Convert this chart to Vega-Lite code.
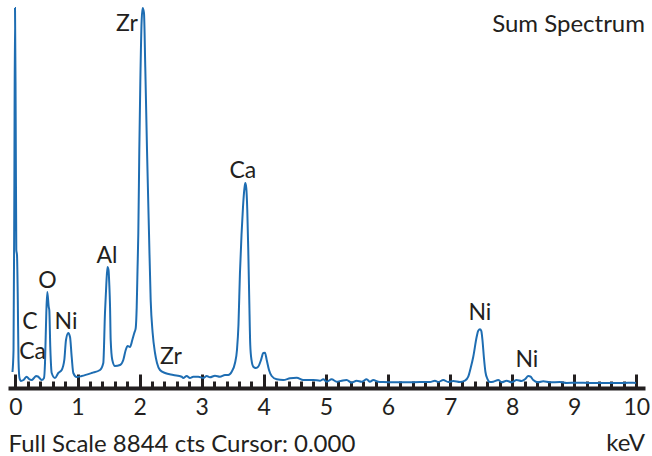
{
  "$schema": "https://vega.github.io/schema/vega-lite/v6.json",
  "width": 637,
  "height": 380,
  "autosize": {"type": "none"},
  "padding": {"left": 8, "top": 8, "right": 7, "bottom": 68},
  "background": "white",
  "config": {"view": {"stroke": null}, "font": "Lato"},
  "datasets": {
    "spectrum": [
      {"kev": -0.048, "cts": 372}, {"kev": -0.031, "cts": 884}, {"kev": -0.0185, "cts": 4375}, {"kev": -0.007, "cts": 8844},
      {"kev": 0.004, "cts": 6237}, {"kev": 0.0137, "cts": 3212}, {"kev": 0.025, "cts": 3095}, {"kev": 0.038, "cts": 2048},
      {"kev": 0.049, "cts": 652}, {"kev": 0.065, "cts": 233}, {"kev": 0.089, "cts": 163}, {"kev": 0.130, "cts": 186},
      {"kev": 0.181, "cts": 263}, {"kev": 0.218, "cts": 209}, {"kev": 0.262, "cts": 186}, {"kev": 0.299, "cts": 233},
      {"kev": 0.331, "cts": 279}, {"kev": 0.363, "cts": 268}, {"kev": 0.423, "cts": 186}, {"kev": 0.460, "cts": 233},
      {"kev": 0.476, "cts": 582}, {"kev": 0.497, "cts": 1746}, {"kev": 0.513, "cts": 2234}, {"kev": 0.536, "cts": 1885},
      {"kev": 0.545, "cts": 1815}, {"kev": 0.561, "cts": 954}, {"kev": 0.584, "cts": 349}, {"kev": 0.637, "cts": 233},
      {"kev": 0.690, "cts": 349}, {"kev": 0.745, "cts": 419}, {"kev": 0.787, "cts": 652}, {"kev": 0.814, "cts": 1117},
      {"kev": 0.851, "cts": 1280}, {"kev": 0.879, "cts": 1187}, {"kev": 0.906, "cts": 721}, {"kev": 0.932, "cts": 349},
      {"kev": 0.986, "cts": 256}, {"kev": 1.067, "cts": 279}, {"kev": 1.228, "cts": 349}, {"kev": 1.362, "cts": 419},
      {"kev": 1.415, "cts": 582}, {"kev": 1.442, "cts": 1746}, {"kev": 1.463, "cts": 2397}, {"kev": 1.482, "cts": 2816},
      {"kev": 1.499, "cts": 2746}, {"kev": 1.512, "cts": 2397}, {"kev": 1.523, "cts": 1932}, {"kev": 1.534, "cts": 1117},
      {"kev": 1.560, "cts": 652}, {"kev": 1.603, "cts": 512}, {"kev": 1.684, "cts": 535}, {"kev": 1.737, "cts": 652},
      {"kev": 1.776, "cts": 884}, {"kev": 1.808, "cts": 977}, {"kev": 1.845, "cts": 954}, {"kev": 1.882, "cts": 1117},
      {"kev": 1.914, "cts": 1280}, {"kev": 1.937, "cts": 1396}, {"kev": 1.953, "cts": 1885}, {"kev": 1.966, "cts": 2746},
      {"kev": 1.979, "cts": 3607}, {"kev": 1.995, "cts": 5539}, {"kev": 2.011, "cts": 7098}, {"kev": 2.033, "cts": 8565},
      {"kev": 2.049, "cts": 8844}, {"kev": 2.070, "cts": 8728}, {"kev": 2.091, "cts": 7471}, {"kev": 2.119, "cts": 5539},
      {"kev": 2.151, "cts": 3607}, {"kev": 2.178, "cts": 2048}, {"kev": 2.210, "cts": 1280}, {"kev": 2.248, "cts": 815},
      {"kev": 2.280, "cts": 582}, {"kev": 2.328, "cts": 419}, {"kev": 2.409, "cts": 349}, {"kev": 2.542, "cts": 303},
      {"kev": 2.678, "cts": 263}, {"kev": 2.703, "cts": 233}, {"kev": 2.758, "cts": 279}, {"kev": 2.811, "cts": 233},
      {"kev": 2.864, "cts": 263}, {"kev": 2.945, "cts": 263}, {"kev": 3.025, "cts": 233}, {"kev": 3.080, "cts": 279},
      {"kev": 3.133, "cts": 249}, {"kev": 3.214, "cts": 286}, {"kev": 3.294, "cts": 263}, {"kev": 3.375, "cts": 303},
      {"kev": 3.428, "cts": 303}, {"kev": 3.483, "cts": 379}, {"kev": 3.536, "cts": 582}, {"kev": 3.568, "cts": 884},
      {"kev": 3.592, "cts": 1466}, {"kev": 3.616, "cts": 2677}, {"kev": 3.641, "cts": 3561}, {"kev": 3.665, "cts": 4213},
      {"kev": 3.689, "cts": 4655}, {"kev": 3.702, "cts": 4771}, {"kev": 3.718, "cts": 4655}, {"kev": 3.734, "cts": 4143},
      {"kev": 3.750, "cts": 3212}, {"kev": 3.766, "cts": 2048}, {"kev": 3.782, "cts": 1001}, {"kev": 3.802, "cts": 652},
      {"kev": 3.831, "cts": 496}, {"kev": 3.874, "cts": 465}, {"kev": 3.911, "cts": 496}, {"kev": 3.955, "cts": 652},
      {"kev": 3.992, "cts": 815}, {"kev": 4.019, "cts": 822}, {"kev": 4.047, "cts": 652}, {"kev": 4.084, "cts": 419},
      {"kev": 4.127, "cts": 279}, {"kev": 4.208, "cts": 202}, {"kev": 4.314, "cts": 186}, {"kev": 4.422, "cts": 226},
      {"kev": 4.530, "cts": 240}, {"kev": 4.636, "cts": 186}, {"kev": 4.797, "cts": 186}, {"kev": 4.905, "cts": 170},
      {"kev": 4.958, "cts": 202}, {"kev": 5.013, "cts": 147}, {"kev": 5.093, "cts": 202}, {"kev": 5.174, "cts": 147},
      {"kev": 5.254, "cts": 170}, {"kev": 5.335, "cts": 186}, {"kev": 5.416, "cts": 123}, {"kev": 5.496, "cts": 170},
      {"kev": 5.577, "cts": 147}, {"kev": 5.657, "cts": 202}, {"kev": 5.710, "cts": 147}, {"kev": 5.763, "cts": 186},
      {"kev": 5.844, "cts": 147}, {"kev": 5.924, "cts": 140}, {"kev": 6.085, "cts": 133}, {"kev": 6.301, "cts": 133},
      {"kev": 6.516, "cts": 140}, {"kev": 6.677, "cts": 140}, {"kev": 6.757, "cts": 170}, {"kev": 6.810, "cts": 140},
      {"kev": 6.891, "cts": 186}, {"kev": 6.971, "cts": 140}, {"kev": 7.052, "cts": 163}, {"kev": 7.160, "cts": 140},
      {"kev": 7.240, "cts": 170}, {"kev": 7.293, "cts": 263}, {"kev": 7.332, "cts": 465}, {"kev": 7.374, "cts": 728},
      {"kev": 7.429, "cts": 1194}, {"kev": 7.454, "cts": 1334}, {"kev": 7.482, "cts": 1366}, {"kev": 7.503, "cts": 1327},
      {"kev": 7.522, "cts": 1117}, {"kev": 7.546, "cts": 698}, {"kev": 7.570, "cts": 372}, {"kev": 7.603, "cts": 209},
      {"kev": 7.643, "cts": 140}, {"kev": 7.696, "cts": 147}, {"kev": 7.777, "cts": 186}, {"kev": 7.831, "cts": 133},
      {"kev": 7.912, "cts": 170}, {"kev": 7.992, "cts": 133}, {"kev": 8.073, "cts": 186}, {"kev": 8.153, "cts": 163},
      {"kev": 8.207, "cts": 202}, {"kev": 8.260, "cts": 279}, {"kev": 8.298, "cts": 263}, {"kev": 8.340, "cts": 186},
      {"kev": 8.421, "cts": 133}, {"kev": 8.501, "cts": 156}, {"kev": 8.609, "cts": 133}, {"kev": 8.770, "cts": 140},
      {"kev": 8.878, "cts": 116}, {"kev": 9.039, "cts": 123}, {"kev": 9.253, "cts": 116}, {"kev": 9.522, "cts": 116},
      {"kev": 9.790, "cts": 116}, {"kev": 9.951, "cts": 123}, {"kev": 9.994, "cts": 116}
    ],
    "peaks": [
      {"kev": 1.795, "cts": 8480, "label": "Zr"},
      {"kev": 3.663, "cts": 5040, "label": "Ca"},
      {"kev": 1.473, "cts": 3070, "label": "Al"},
      {"kev": 0.515, "cts": 2500, "label": "O"},
      {"kev": 0.235, "cts": 1540, "label": "C"},
      {"kev": 0.815, "cts": 1536, "label": "Ni"},
      {"kev": 0.275, "cts": 830, "label": "Ca"},
      {"kev": 2.504, "cts": 721, "label": "Zr"},
      {"kev": 7.48, "cts": 1745, "label": "Ni"},
      {"kev": 8.237, "cts": 652, "label": "Ni"}
    ],
    "corner": [
      {"kev": 10.14, "cts": 8450, "label": "Sum Spectrum"},
      {"kev": 10.14, "cts": -1303, "label": "keV"}
    ]
  },
  "layer": [
    {
      "data": {"name": "spectrum"},
      "mark": {"type": "line", "color": "#1e6db2", "strokeWidth": 2, "interpolate": "monotone", "clip": false},
      "encoding": {
        "x": {
          "field": "kev", "type": "quantitative",
          "scale": {"domain": [-0.12, 10.14], "nice": false, "zero": false},
          "axis": {
            "title": "Full Scale 8844 cts Cursor: 0.000",
            "titleAnchor": "start", "titleAlign": "left", "titleFont": "Lato", "titleFontSize": 24, "titleFontWeight": "normal", "titleColor": "#231f20", "titlePadding": 6,
            "values": [0,0.2,0.4,0.6,0.8,1,1.2,1.4,1.6,1.8,2,2.2,2.4,2.6,2.8,3,3.2,3.4,3.6,3.8,4,4.2,4.4,4.6,4.8,5,5.2,5.4,5.6,5.8,6,6.2,6.4,6.6,6.8,7,7.2,7.4,7.6,7.8,8,8.2,8.4,8.6,8.8,9,9.2,9.4,9.6,9.8,10],
            "tickCount": 200,
            "labelExpr": "abs(datum.value - round(datum.value)) < 0.001 ? format(datum.value, 'd') : ''",
            "labelFont": "Lato", "labelFontSize": 23, "labelColor": "#231f20", "labelPadding": 22, "labelFlush": false, "labelOverlap": false,
            "tickSize": {"condition": {"test": "abs(datum.value - round(datum.value)) < 0.001", "value": -14}, "value": -7},
            "tickWidth": 3, "tickColor": "#231f20",
            "domainColor": "#231f20", "domainWidth": 4,
            "grid": false
          }
        },
        "y": {
          "field": "cts", "type": "quantitative",
          "scale": {"domain": [0, 8844], "nice": false, "zero": false},
          "axis": null
        }
      }
    },
    {
      "data": {"name": "peaks"},
      "mark": {"type": "text", "font": "Lato", "fontSize": 23, "color": "#231f20", "align": "center", "baseline": "middle", "clip": false},
      "encoding": {
        "x": {"field": "kev", "type": "quantitative"},
        "y": {"field": "cts", "type": "quantitative"},
        "text": {"field": "label"}
      }
    },
    {
      "data": {"name": "corner"},
      "mark": {"type": "text", "font": "Lato", "fontSize": 24, "color": "#231f20", "align": "right", "baseline": "middle", "clip": false},
      "encoding": {
        "x": {"field": "kev", "type": "quantitative"},
        "y": {"field": "cts", "type": "quantitative"},
        "text": {"field": "label"}
      }
    }
  ]
}
